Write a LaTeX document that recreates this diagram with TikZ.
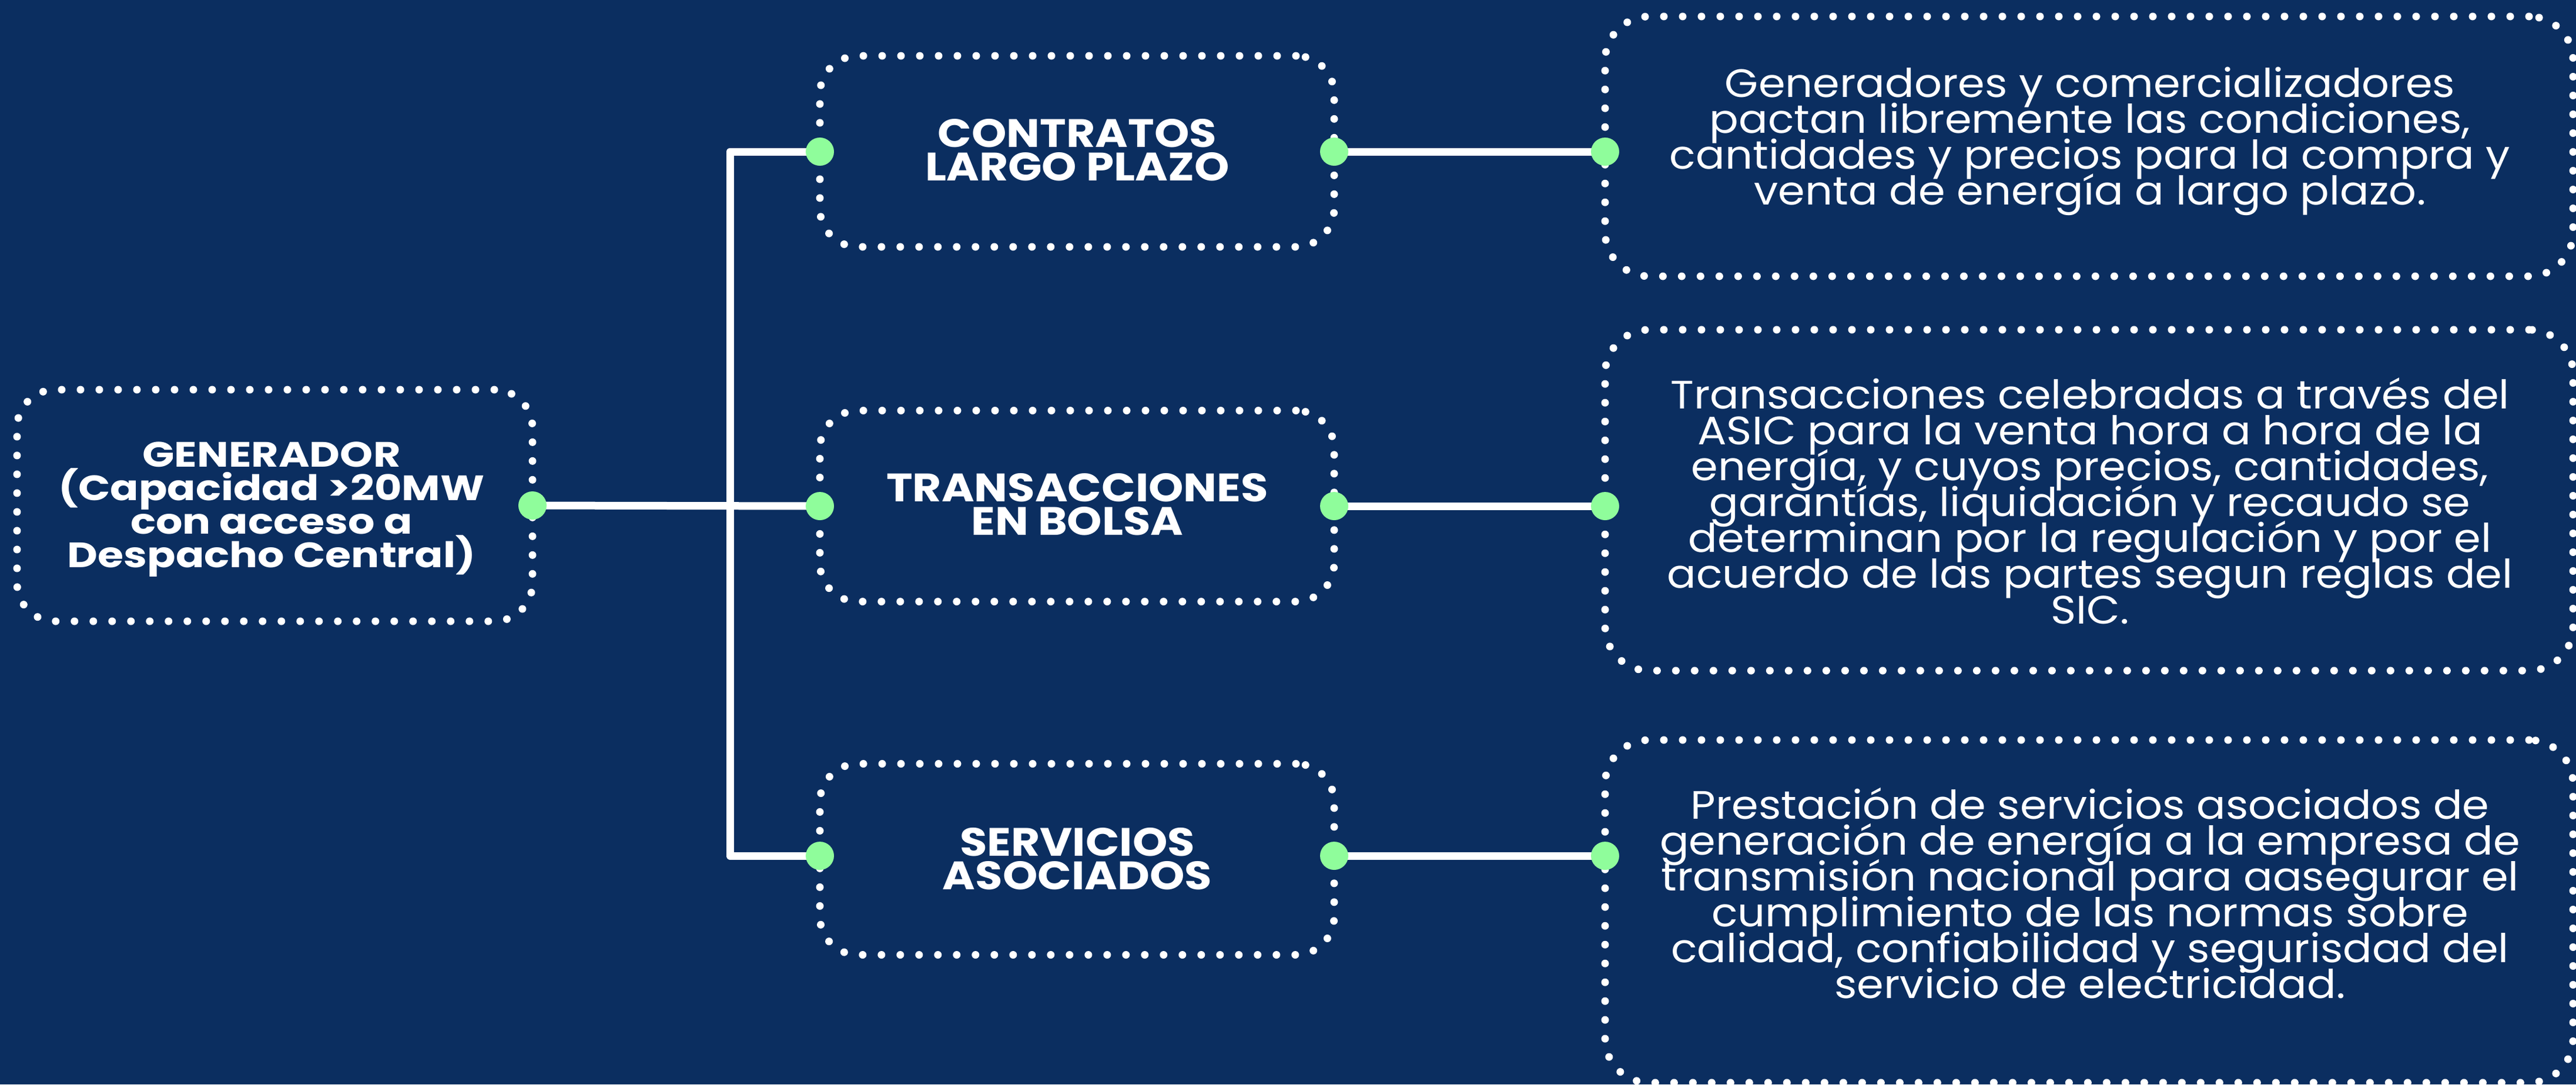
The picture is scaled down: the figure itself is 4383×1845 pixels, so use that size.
\documentclass[tikz,border=0pt]{standalone}
\usepackage{fontspec}
\setmainfont{Poppins}[FakeStretch=1.09]
\newfontfamily\titlefont{Poppins}[FakeStretch=1.12]
\newfontfamily\genfont{Poppins}[FakeStretch=1.19]
\definecolor{bg}{HTML}{0B2E60}
\definecolor{dotgreen}{HTML}{8FFD9B}
\lineskiplimit=-1000pt\relax
\begin{document}
\begin{tikzpicture}[x=0.2pt,y=-0.2pt,
  dotbox/.style={draw=white, line width=2.6pt, dash pattern=on 0pt off 6.4pt,
    line cap=round, rounded corners=13pt, outer sep=0pt, inner sep=0pt},
  genbox/.style={dotbox, minimum width=175.4pt, minimum height=78.8pt},
  midbox/.style={dotbox, minimum width=175pt, minimum height=65pt},
  descbox/.style={dotbox, rounded corners=15pt, minimum width=329.4pt},
  titletext/.style={text=white, align=center, inner sep=0pt,
    font=\titlefont\bfseries\fontsize{13.5}{11.3}\selectfont},
  gentext/.style={text=white, align=center, inner sep=0pt,
    font=\genfont\bfseries\fontsize{12}{11.4}\selectfont},
  desctext/.style={text=white, align=center, inner sep=0pt,
    font=\fontsize{13.5}{12.2}\selectfont},
  conn/.style={draw=white, line width=2.6pt, line join=round},
  gdot/.style={circle, fill=dotgreen, minimum size=9.6pt, inner sep=0pt}]
\lineskiplimit=-1000pt\relax
\fill[bg] (0,0) rectangle (4383,1845);
\useasboundingbox (0,0) rectangle (4383,1845);
% boxes
\node[genbox] (gen) at (467.5,860) {};
\node[midbox] (c1) at (1832.5,257.5) {};
\node[midbox] (c2) at (1832.5,861) {};
\node[midbox] (c3) at (1832.5,1462) {};
\node[descbox, minimum height=88.4pt] (d1) at (3554.5,249) {};
\node[descbox, minimum height=116pt] (d2) at (3554.5,851) {};
\node[descbox, minimum height=116.6pt] (d3) at (3554.5,1550.5) {};
% texts
\node[gentext] (gent) at (462,867) {GENERADOR\\(Capacidad >20MW\\con acceso a\\Despacho Central)};
\node[titletext] (c1t) at (1833,255) {CONTRATOS\\LARGO PLAZO};
\node[titletext] (c2t) at (1833,858) {TRANSACCIONES\\EN BOLSA};
\node[titletext] (c3t) at (1833,1461) {SERVICIOS\\ASOCIADOS};
\node[desctext] (d1t) at (3556,240) {Generadores y comercializadores\\pactan libremente las condiciones,\\cantidades y precios para la compra y\\venta de energía a largo plazo.};
\node[desctext] (d2t) at (3556,852) {Transacciones celebradas a través del\\ASIC para la venta hora a hora de la\\energía, y cuyos precios, cantidades,\\garantías, liquidación y recaudo se\\determinan por la regulación y por el\\acuerdo de las partes segun reglas del\\SIC.};
\node[desctext] (d3t) at (3556,1520) {Prestación de servicios asociados de\\generación de energía a la empresa de\\transmisión nacional para aasegurar el\\cumplimiento de las normas sobre\\calidad, confiabilidad y segurisdad del\\servicio de electricidad.};
% connectors
\coordinate (tt) at (1242,258);
\coordinate (tb) at (1242,1456);
\draw[conn] (c1.west |- tt) -- (tt) -- (tb) -- (c3.west |- tb);
\draw[conn] (gen.east) -- (c2.west);
\draw[conn] (c1.east |- tt) -- (d1.west |- tt);
\draw[conn] (c2.east) -- (d2.west |- c2.east);
\draw[conn] (c3.east |- tb) -- (d3.west |- tb);
% green dots
\node[gdot] (g0) at (gen.east) {};
\node[gdot] (g1a) at (c1.west |- tt) {};
\node[gdot] (g1b) at (c1.east |- tt) {};
\node[gdot] (g1c) at (d1.west |- tt) {};
\node[gdot] (g2a) at (c2.west) {};
\node[gdot] (g2b) at (c2.east) {};
\node[gdot] (g2c) at (d2.west |- c2.east) {};
\node[gdot] (g3a) at (c3.west |- tb) {};
\node[gdot] (g3b) at (c3.east |- tb) {};
\node[gdot] (g3c) at (d3.west |- tb) {};
\end{tikzpicture}
\end{document}
